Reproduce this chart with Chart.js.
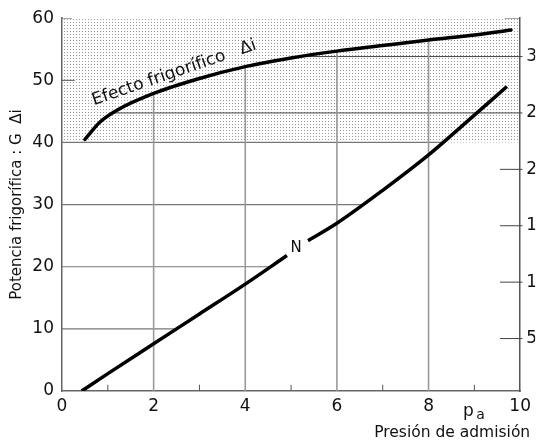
<!DOCTYPE html>
<html lang="es">
<head>
<meta charset="UTF-8">
<title>Potencia frigorífica - Presión de admisión</title>
<script src="https://cdn.jsdelivr.net/npm/chart.js"></script>
<style>
    html, body { margin: 0; padding: 0; background: #fff; overflow: hidden; }
    #grafico { display: block; }
</style>
</head>
<body>
<canvas id="grafico" width="536" height="443"></canvas>
<script>
    // Curvas (x = presión de admisión)
    const efectoX = [0.5, 0.83, 1.2, 2, 3, 4, 5, 6, 7, 8, 9, 9.8];
    const efectoY = [40.5, 43.3, 45.2, 47.9, 50.3, 52.2, 53.6, 54.7, 55.6, 56.5, 57.3, 58.1];
    const nX = [0.43, 1, 2, 3, 4, 4.91, 5.14, 5.37, 6, 7, 8, 9, 9.71];
    const nY = [0, 2.8, 7.6, 12.4, 17.2, 21.8, null, 24.2, 27.0, 32.3, 38.0, 44.4, 49.0];

    // Ejes y divisiones
    const xTicks = [0, 2, 4, 6, 8, 10];
    const xMinor = [1, 3, 5, 7, 9];
    const xGrid = [2, 4, 6, 8];          // verticales hasta la curva de efecto
    const yTicks = [0, 10, 20, 30, 40, 50, 60];
    const yGrid = [10, 20, 30, 40];      // horizontales hasta la curva N
    const yInner = [50, 60];
    const rightTicks = [5, 10, 15, 20, 25, 30];
    const rightLong = [25, 30];          // desde la curva de efecto hasta el eje derecho
    const rightShort = [5, 10, 15, 20];
    const rightMin = 0.35, rightMax = 33.4;
    const zona = [40, 60];               // banda punteada

    // busca la x donde la curva corta un nivel
    function crossX(xs, ys, level) {
        for (let i = 0; i < xs.length - 1; i++) {
            const y0 = ys[i], y1 = ys[i + 1];
            if (y0 === null || y1 === null || y0 === y1) continue;
            if ((level - y0) * (level - y1) <= 0)
                return xs[i] + (level - y0) / (y1 - y0) * (xs[i + 1] - xs[i]);
        }
        return null;
    }
    // valor de la curva en x
    function valueAt(xs, ys, x) {
        for (let i = 0; i < xs.length - 1; i++) {
            if (x >= xs[i] && x <= xs[i + 1] && ys[i] !== null && ys[i + 1] !== null)
                return ys[i] + (x - xs[i]) / (xs[i + 1] - xs[i]) * (ys[i + 1] - ys[i]);
        }
        return null;
    }
    const toRight = v => rightMin + v / 60 * (rightMax - rightMin);

    // tramos sueltos separados con null
    function segs(list) {
        const out = [];
        list.forEach(s => {
            out.push({x: s[0], y: s[1]}, {x: s[2], y: s[3]}, {x: s[2], y: null});
        });
        return out;
    }
    function curve(xs, ys) {
        return xs.map((x, i) => ({x: x, y: ys[i]}));
    }

    const canvas = document.getElementById('grafico');
    const ctx = canvas.getContext('2d');

    // trama de puntos
    const pc = document.createElement('canvas');
    pc.width = 3; pc.height = 3;
    const pctx = pc.getContext('2d');
    pctx.fillStyle = '#9a9a9a';
    pctx.fillRect(1, 1, 1, 1);
    const puntos = ctx.createPattern(pc, 'repeat');

    const efectoRight = efectoY.map(toRight);

    const base = {pointRadius: 0, pointHoverRadius: 0, fill: false, spanGaps: false, tension: 0};

    const datasets = [
        {...base, label: 'zona', data: [{x: 0, y: zona[1]}, {x: 10, y: zona[1]}],
            fill: {value: zona[0]}, backgroundColor: puntos, borderWidth: 0, order: 20},
        {...base, label: 'verticales', order: 10, borderColor: '#999', borderWidth: 1.6,
            data: segs(xGrid.map(x => [x, 0, x, valueAt(efectoX, efectoY, x)]))},
        {...base, label: 'horizontales', order: 10, borderColor: '#777', borderWidth: 1.2,
            data: segs(yGrid.map(v => [0, v, crossX(nX, nY, v), v]))},
        {...base, label: 'derecha largas', order: 10, yAxisID: 'y2', borderColor: '#444', borderWidth: 1, clip: 6,
            data: segs(rightLong.map(v => [crossX(efectoX, efectoRight, v), v, 10.05, v]))},
        {...base, label: 'derecha cortas', order: 10, yAxisID: 'y2', borderColor: '#444', borderWidth: 1, clip: 6,
            data: segs(rightShort.map(v => [9.56, v, 10.05, v]))},
        {...base, label: 'marcas', order: 10, borderColor: '#555', borderWidth: 1,
            data: segs(yInner.map(v => [0, v, v === 60 ? 0.22 : 0.28, v]).concat([[9.66, 60, 10, 60]])
                .concat(xMinor.map(x => [x, 0, x, 1.0])))},
        {...base, label: 'Efecto frigorífico', order: 0, borderColor: '#000', borderWidth: 3.5,
            cubicInterpolationMode: 'monotone', borderCapStyle: 'round', data: curve(efectoX, efectoY)},
        {...base, label: 'N', order: 0, borderColor: '#000', borderWidth: 3.5,
            cubicInterpolationMode: 'monotone', data: curve(nX, nY)}
    ];

    Chart.defaults.font.family = '"DejaVu Sans", sans-serif';
    Chart.defaults.color = '#111';

    // textos sobre el gráfico
    const textos = {
        id: 'textos',
        afterDraw(chart) {
            const c = chart.ctx, xs = chart.scales.x, ys = chart.scales.y;
            c.save();
            c.fillStyle = '#111';
            // etiqueta de la curva superior
            c.font = '17px "DejaVu Sans"';
            c.textAlign = 'left';
            c.textBaseline = 'alphabetic';
            c.translate(xs.getPixelForValue(0.7), ys.getPixelForValue(46.0));
            c.rotate(-19 * Math.PI / 180);
            c.fillText('Efecto frigorífico   Δi', 0, 0);
            c.restore();

            c.save();
            c.fillStyle = '#111';
            c.font = '15px "DejaVu Sans"';
            c.textAlign = 'center';
            c.textBaseline = 'middle';
            c.fillText('N', xs.getPixelForValue(5.11), ys.getPixelForValue(23.0));

            // p_a junto al eje x
            c.textAlign = 'left';
            c.textBaseline = 'alphabetic';
            c.font = '17px "DejaVu Sans"';
            c.fillText('p', xs.getPixelForValue(8.75), chart.height - 27);
            c.font = '14px "DejaVu Sans"';
            c.fillText('a', xs.getPixelForValue(9.04), chart.height - 24);

            // título eje x
            c.font = '15.5px "DejaVu Sans"';
            c.textAlign = 'right';
            c.fillText('Presión de admisión', xs.right + 10, chart.height - 6);
            c.restore();
        }
    };

    const myChart = new Chart(ctx, {
        type: 'line',
        data: {datasets: datasets},
        plugins: [textos],
        options: {
            responsive: false,
            animation: false,
            devicePixelRatio: 1,
            layout: {padding: {top: 16, left: 0, right: 0, bottom: 0}},
            plugins: {legend: {display: false}, tooltip: {enabled: false}},
            scales: {
                x: {
                    type: 'linear', min: 0, max: 10,
                    afterBuildTicks: s => { s.ticks = xTicks.map(v => ({value: v})); },
                    afterFit: s => { s.height = 52; },
                    grid: {display: false, drawTicks: false},
                    border: {display: true, color: '#666', width: 1.5},
                    ticks: {font: {size: 17}, padding: 5, maxRotation: 0}
                },
                y: {
                    type: 'linear', position: 'left', min: 0, max: 60,
                    afterBuildTicks: s => { s.ticks = yTicks.map(v => ({value: v})); },
                    afterFit: s => { s.width = 62; },
                    grid: {display: false, drawTicks: false},
                    border: {display: true, color: '#666', width: 1.5},
                    ticks: {font: {size: 17}, padding: 8},
                    title: {display: true, text: 'Potencia frigorífica : G  Δi', font: {size: 15},
                        padding: {top: 8, bottom: 0}, color: '#111'}
                },
                y2: {
                    type: 'linear', position: 'right', min: rightMin, max: rightMax,
                    afterBuildTicks: s => { s.ticks = rightTicks.map(v => ({value: v})); },
                    afterFit: s => { s.width = 15; },
                    grid: {display: false, drawTicks: false},
                    border: {display: true, color: '#555', width: 1.5},
                    ticks: {font: {size: 17}, padding: 6}
                }
            }
        }
    });
</script>
</body>
</html>
